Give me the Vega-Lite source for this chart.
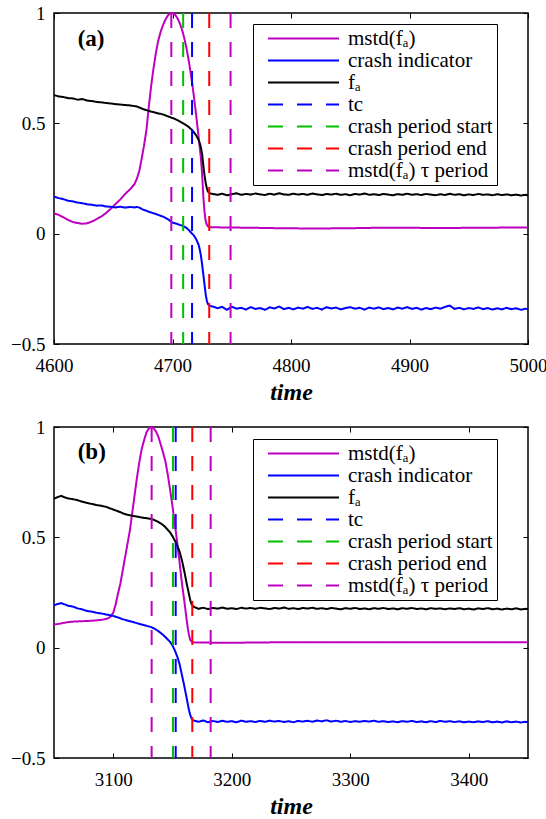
{
  "$schema": "https://vega.github.io/schema/vega-lite/v6.json",
  "padding": {"left": 9, "top": 3, "right": 0, "bottom": 0},
  "config": {
    "font": "Liberation Serif",
    "view": {"stroke": "black", "strokeWidth": 1.5},
    "axis": {"domain": false, "grid": false, "tickColor": "black", "tickSize": -5, "tickWidth": 1, "labelFont": "Liberation Serif", "labelFontSize": 19, "labelColor": "black", "titleFont": "Liberation Serif", "titleColor": "black", "labelFlush": false}
  },
  "datasets": {
    "a": [
      {"t":4600,"m":0.092,"c":0.168,"f":0.628},{"t":4604,"m":0.085,"c":0.161,"f":0.622},{"t":4608,"m":0.074,"c":0.156,"f":0.619},{"t":4612,"m":0.062,"c":0.149,"f":0.614},{"t":4616,"m":0.053,"c":0.146,"f":0.613},{"t":4620,"m":0.048,"c":0.141,"f":0.607},{"t":4624,"m":0.045,"c":0.138,"f":0.610},{"t":4628,"m":0.047,"c":0.133,"f":0.603},{"t":4632,"m":0.055,"c":0.131,"f":0.601},{"t":4636,"m":0.066,"c":0.127,"f":0.597},{"t":4640,"m":0.078,"c":0.128,"f":0.595},{"t":4644,"m":0.094,"c":0.123,"f":0.592},{"t":4648,"m":0.113,"c":0.122,"f":0.590},{"t":4652,"m":0.135,"c":0.119,"f":0.587},{"t":4656,"m":0.155,"c":0.122,"f":0.585},{"t":4660,"m":0.180,"c":0.118,"f":0.583},{"t":4664,"m":0.200,"c":0.121,"f":0.581},{"t":4668,"m":0.225,"c":0.119,"f":0.578},{"t":4670,"m":0.250,"c":0.121,"f":0.576},{"t":4672,"m":0.285,"c":0.118,"f":0.572},{"t":4674,"m":0.340,"c":0.112,"f":0.567},{"t":4676,"m":0.400,"c":0.107,"f":0.563},{"t":4678,"m":0.470,"c":0.104,"f":0.560},{"t":4680,"m":0.575,"c":0.099,"f":0.556},{"t":4682,"m":0.670,"c":0.096,"f":0.553},{"t":4684,"m":0.750,"c":0.092,"f":0.551},{"t":4686,"m":0.820,"c":0.089,"f":0.548},{"t":4688,"m":0.875,"c":0.085,"f":0.545},{"t":4690,"m":0.915,"c":0.081,"f":0.543},{"t":4692,"m":0.945,"c":0.077,"f":0.540},{"t":4694,"m":0.970,"c":0.072,"f":0.536},{"t":4696,"m":0.988,"c":0.066,"f":0.532},{"t":4698,"m":0.998,"c":0.058,"f":0.528},{"t":4700,"m":1.000,"c":0.050,"f":0.524},{"t":4702,"m":0.993,"c":0.047,"f":0.520},{"t":4704,"m":0.978,"c":0.044,"f":0.515},{"t":4706,"m":0.956,"c":0.040,"f":0.509},{"t":4708,"m":0.925,"c":0.037,"f":0.503},{"t":4710,"m":0.885,"c":0.032,"f":0.497},{"t":4712,"m":0.835,"c":0.025,"f":0.490},{"t":4714,"m":0.775,"c":0.015,"f":0.482},{"t":4716,"m":0.705,"c":0.003,"f":0.472},{"t":4718,"m":0.625,"c":-0.008,"f":0.460},{"t":4720,"m":0.535,"c":-0.025,"f":0.445},{"t":4722,"m":0.440,"c":-0.050,"f":0.425},{"t":4723,"m":0.390,"c":-0.072,"f":0.410},{"t":4724,"m":0.340,"c":-0.100,"f":0.390},{"t":4725,"m":0.270,"c":-0.140,"f":0.360},{"t":4726,"m":0.170,"c":-0.185,"f":0.310},{"t":4727,"m":0.100,"c":-0.230,"f":0.265},{"t":4728,"m":0.058,"c":-0.275,"f":0.230},{"t":4729,"m":0.040,"c":-0.305,"f":0.205},{"t":4730,"m":0.033,"c":-0.320,"f":0.190},{"t":4731,"m":0.030,"c":-0.325,"f":0.185},{"t":4732,"m":0.029,"c":-0.328,"f":0.182},
      {"t":4734,"m":0.029,"c":-0.330,"f":0.180},{"t":4738,"m":0.029,"c":-0.338,"f":0.176},{"t":4742,"m":0.028,"c":-0.332,"f":0.181},{"t":4746,"m":0.028,"c":-0.345,"f":0.174},{"t":4750,"m":0.028,"c":-0.331,"f":0.179},{"t":4754,"m":0.028,"c":-0.340,"f":0.183},{"t":4758,"m":0.027,"c":-0.336,"f":0.176},{"t":4762,"m":0.027,"c":-0.344,"f":0.180},{"t":4766,"m":0.027,"c":-0.333,"f":0.177},{"t":4770,"m":0.027,"c":-0.341,"f":0.182},{"t":4774,"m":0.026,"c":-0.337,"f":0.178},{"t":4778,"m":0.026,"c":-0.345,"f":0.175},{"t":4782,"m":0.026,"c":-0.334,"f":0.181},{"t":4786,"m":0.025,"c":-0.339,"f":0.177},{"t":4790,"m":0.025,"c":-0.330,"f":0.183},{"t":4794,"m":0.025,"c":-0.342,"f":0.178},{"t":4798,"m":0.024,"c":-0.336,"f":0.176},{"t":4802,"m":0.024,"c":-0.343,"f":0.181},{"t":4806,"m":0.024,"c":-0.335,"f":0.177},{"t":4810,"m":0.023,"c":-0.340,"f":0.180},{"t":4814,"m":0.023,"c":-0.332,"f":0.176},{"t":4818,"m":0.023,"c":-0.341,"f":0.182},{"t":4822,"m":0.023,"c":-0.336,"f":0.178},{"t":4826,"m":0.023,"c":-0.344,"f":0.175},{"t":4830,"m":0.023,"c":-0.333,"f":0.180},{"t":4834,"m":0.024,"c":-0.339,"f":0.177},{"t":4838,"m":0.024,"c":-0.335,"f":0.181},{"t":4842,"m":0.024,"c":-0.343,"f":0.176},{"t":4846,"m":0.025,"c":-0.337,"f":0.179},{"t":4850,"m":0.025,"c":-0.333,"f":0.174},{"t":4854,"m":0.025,"c":-0.340,"f":0.180},{"t":4858,"m":0.026,"c":-0.336,"f":0.177},{"t":4862,"m":0.026,"c":-0.344,"f":0.182},{"t":4866,"m":0.026,"c":-0.335,"f":0.176},{"t":4870,"m":0.027,"c":-0.340,"f":0.179},{"t":4874,"m":0.027,"c":-0.334,"f":0.175},{"t":4878,"m":0.027,"c":-0.342,"f":0.180},{"t":4882,"m":0.027,"c":-0.337,"f":0.177},{"t":4886,"m":0.027,"c":-0.343,"f":0.174},{"t":4890,"m":0.027,"c":-0.335,"f":0.179},{"t":4894,"m":0.027,"c":-0.340,"f":0.176},{"t":4898,"m":0.027,"c":-0.333,"f":0.181},{"t":4902,"m":0.027,"c":-0.341,"f":0.176},{"t":4906,"m":0.027,"c":-0.336,"f":0.179},{"t":4910,"m":0.026,"c":-0.344,"f":0.175},{"t":4914,"m":0.026,"c":-0.337,"f":0.180},{"t":4918,"m":0.026,"c":-0.342,"f":0.177},{"t":4922,"m":0.026,"c":-0.335,"f":0.174},{"t":4926,"m":0.026,"c":-0.340,"f":0.179},{"t":4930,"m":0.026,"c":-0.332,"f":0.175},{"t":4934,"m":0.026,"c":-0.326,"f":0.181},{"t":4938,"m":0.026,"c":-0.341,"f":0.176},{"t":4942,"m":0.026,"c":-0.336,"f":0.179},{"t":4946,"m":0.027,"c":-0.343,"f":0.174},{"t":4950,"m":0.027,"c":-0.337,"f":0.178},{"t":4954,"m":0.027,"c":-0.341,"f":0.175},{"t":4958,"m":0.027,"c":-0.334,"f":0.180},{"t":4962,"m":0.027,"c":-0.342,"f":0.176},{"t":4966,"m":0.027,"c":-0.337,"f":0.178},{"t":4970,"m":0.027,"c":-0.344,"f":0.174},{"t":4974,"m":0.027,"c":-0.338,"f":0.179},{"t":4978,"m":0.028,"c":-0.343,"f":0.175},{"t":4982,"m":0.028,"c":-0.336,"f":0.178},{"t":4986,"m":0.028,"c":-0.342,"f":0.174},{"t":4990,"m":0.028,"c":-0.338,"f":0.177},{"t":4994,"m":0.028,"c":-0.345,"f":0.173},{"t":4998,"m":0.028,"c":-0.340,"f":0.176},{"t":5000,"m":0.028,"c":-0.343,"f":0.174}
    ],
    "b": [
      {"t":3050,"m":0.105,"c":0.192,"f":0.675},{"t":3053,"m":0.107,"c":0.198,"f":0.682},{"t":3056,"m":0.110,"c":0.202,"f":0.688},{"t":3059,"m":0.113,"c":0.196,"f":0.681},{"t":3062,"m":0.116,"c":0.190,"f":0.676},{"t":3066,"m":0.118,"c":0.186,"f":0.673},{"t":3070,"m":0.119,"c":0.178,"f":0.668},{"t":3074,"m":0.120,"c":0.173,"f":0.661},{"t":3078,"m":0.121,"c":0.166,"f":0.656},{"t":3082,"m":0.122,"c":0.163,"f":0.651},{"t":3086,"m":0.124,"c":0.158,"f":0.646},{"t":3090,"m":0.126,"c":0.155,"f":0.643},{"t":3094,"m":0.130,"c":0.150,"f":0.638},{"t":3096,"m":0.134,"c":0.149,"f":0.634},{"t":3098,"m":0.142,"c":0.146,"f":0.630},{"t":3100,"m":0.158,"c":0.144,"f":0.626},{"t":3102,"m":0.195,"c":0.140,"f":0.622},{"t":3104,"m":0.245,"c":0.137,"f":0.618},{"t":3106,"m":0.290,"c":0.133,"f":0.614},{"t":3108,"m":0.350,"c":0.129,"f":0.609},{"t":3110,"m":0.410,"c":0.126,"f":0.605},{"t":3112,"m":0.470,"c":0.123,"f":0.602},{"t":3114,"m":0.530,"c":0.120,"f":0.600},{"t":3116,"m":0.610,"c":0.117,"f":0.598},{"t":3118,"m":0.690,"c":0.114,"f":0.596},{"t":3120,"m":0.770,"c":0.111,"f":0.594},{"t":3122,"m":0.840,"c":0.108,"f":0.592},{"t":3124,"m":0.900,"c":0.105,"f":0.590},{"t":3126,"m":0.940,"c":0.102,"f":0.588},{"t":3128,"m":0.975,"c":0.099,"f":0.587},{"t":3130,"m":0.993,"c":0.096,"f":0.585},{"t":3132,"m":1.000,"c":0.093,"f":0.583},{"t":3134,"m":0.995,"c":0.088,"f":0.580},{"t":3136,"m":0.980,"c":0.082,"f":0.575},{"t":3138,"m":0.957,"c":0.075,"f":0.570},{"t":3140,"m":0.922,"c":0.067,"f":0.563},{"t":3142,"m":0.885,"c":0.058,"f":0.556},{"t":3144,"m":0.845,"c":0.048,"f":0.546},{"t":3146,"m":0.785,"c":0.037,"f":0.534},{"t":3148,"m":0.715,"c":0.026,"f":0.522},{"t":3150,"m":0.640,"c":0.010,"f":0.505},{"t":3152,"m":0.560,"c":-0.013,"f":0.485},{"t":3154,"m":0.475,"c":-0.040,"f":0.462},{"t":3156,"m":0.385,"c":-0.075,"f":0.435},{"t":3158,"m":0.290,"c":-0.125,"f":0.395},{"t":3160,"m":0.210,"c":-0.175,"f":0.345},{"t":3162,"m":0.125,"c":-0.230,"f":0.290},{"t":3163,"m":0.085,"c":-0.258,"f":0.265},{"t":3164,"m":0.055,"c":-0.285,"f":0.240},{"t":3165,"m":0.035,"c":-0.305,"f":0.215},{"t":3166,"m":0.028,"c":-0.320,"f":0.198},{"t":3167,"m":0.025,"c":-0.328,"f":0.190},{"t":3168,"m":0.024,"c":-0.330,"f":0.185},
      {"t":3172,"m":0.023,"c":-0.336,"f":0.176},{"t":3176,"m":0.023,"c":-0.330,"f":0.181},{"t":3180,"m":0.023,"c":-0.338,"f":0.175},{"t":3184,"m":0.022,"c":-0.332,"f":0.180},{"t":3188,"m":0.022,"c":-0.337,"f":0.177},{"t":3192,"m":0.022,"c":-0.331,"f":0.182},{"t":3196,"m":0.022,"c":-0.336,"f":0.176},{"t":3200,"m":0.022,"c":-0.333,"f":0.179},{"t":3204,"m":0.022,"c":-0.338,"f":0.175},{"t":3208,"m":0.022,"c":-0.331,"f":0.181},{"t":3212,"m":0.023,"c":-0.336,"f":0.177},{"t":3216,"m":0.023,"c":-0.333,"f":0.180},{"t":3220,"m":0.023,"c":-0.337,"f":0.176},{"t":3224,"m":0.023,"c":-0.332,"f":0.181},{"t":3228,"m":0.023,"c":-0.336,"f":0.178},{"t":3232,"m":0.024,"c":-0.331,"f":0.175},{"t":3236,"m":0.024,"c":-0.335,"f":0.180},{"t":3240,"m":0.024,"c":-0.332,"f":0.177},{"t":3244,"m":0.024,"c":-0.337,"f":0.182},{"t":3248,"m":0.024,"c":-0.333,"f":0.176},{"t":3252,"m":0.024,"c":-0.338,"f":0.179},{"t":3256,"m":0.024,"c":-0.332,"f":0.175},{"t":3260,"m":0.024,"c":-0.335,"f":0.180},{"t":3264,"m":0.024,"c":-0.331,"f":0.177},{"t":3268,"m":0.024,"c":-0.336,"f":0.181},{"t":3272,"m":0.024,"c":-0.330,"f":0.176},{"t":3276,"m":0.024,"c":-0.334,"f":0.179},{"t":3280,"m":0.024,"c":-0.329,"f":0.175},{"t":3284,"m":0.024,"c":-0.335,"f":0.180},{"t":3288,"m":0.024,"c":-0.331,"f":0.177},{"t":3292,"m":0.024,"c":-0.336,"f":0.174},{"t":3296,"m":0.024,"c":-0.332,"f":0.179},{"t":3300,"m":0.024,"c":-0.337,"f":0.176},{"t":3304,"m":0.024,"c":-0.333,"f":0.180},{"t":3308,"m":0.024,"c":-0.336,"f":0.175},{"t":3312,"m":0.024,"c":-0.332,"f":0.178},{"t":3316,"m":0.024,"c":-0.335,"f":0.174},{"t":3320,"m":0.024,"c":-0.331,"f":0.179},{"t":3324,"m":0.024,"c":-0.336,"f":0.176},{"t":3328,"m":0.024,"c":-0.333,"f":0.180},{"t":3332,"m":0.024,"c":-0.337,"f":0.175},{"t":3336,"m":0.024,"c":-0.334,"f":0.178},{"t":3340,"m":0.024,"c":-0.338,"f":0.174},{"t":3344,"m":0.024,"c":-0.333,"f":0.179},{"t":3348,"m":0.024,"c":-0.336,"f":0.176},{"t":3352,"m":0.024,"c":-0.332,"f":0.180},{"t":3356,"m":0.024,"c":-0.337,"f":0.175},{"t":3360,"m":0.024,"c":-0.334,"f":0.178},{"t":3364,"m":0.024,"c":-0.338,"f":0.174},{"t":3368,"m":0.024,"c":-0.333,"f":0.179},{"t":3372,"m":0.024,"c":-0.337,"f":0.176},{"t":3376,"m":0.024,"c":-0.332,"f":0.178},{"t":3380,"m":0.024,"c":-0.336,"f":0.174},{"t":3384,"m":0.024,"c":-0.333,"f":0.178},{"t":3388,"m":0.024,"c":-0.337,"f":0.175},{"t":3392,"m":0.024,"c":-0.334,"f":0.179},{"t":3396,"m":0.024,"c":-0.338,"f":0.174},{"t":3400,"m":0.024,"c":-0.335,"f":0.177},{"t":3404,"m":0.024,"c":-0.338,"f":0.173},{"t":3408,"m":0.024,"c":-0.334,"f":0.178},{"t":3412,"m":0.024,"c":-0.337,"f":0.175},{"t":3416,"m":0.024,"c":-0.333,"f":0.179},{"t":3420,"m":0.024,"c":-0.338,"f":0.174},{"t":3424,"m":0.024,"c":-0.335,"f":0.177},{"t":3428,"m":0.024,"c":-0.339,"f":0.173},{"t":3432,"m":0.024,"c":-0.334,"f":0.177},{"t":3436,"m":0.024,"c":-0.338,"f":0.174},{"t":3440,"m":0.024,"c":-0.335,"f":0.178},{"t":3444,"m":0.024,"c":-0.339,"f":0.173},{"t":3448,"m":0.024,"c":-0.336,"f":0.176},{"t":3450,"m":0.024,"c":-0.337,"f":0.175}
    ],
    "aRules": [{"t":4699,"s":"tau"},{"t":4749,"s":"tau"},{"t":4709,"s":"cs"},{"t":4716.5,"s":"tc"},{"t":4731,"s":"ce"}],
    "bRules": [{"t":3132.4,"s":"tau"},{"t":3182.2,"s":"tau"},{"t":3150.4,"s":"cs"},{"t":3152.7,"s":"tc"},{"t":3166.7,"s":"ce"}],
    "aLab": [{"t":4620,"v":0.88,"label":"(a)"}],
    "bLab": [{"t":3070,"v":0.887,"label":"(b)"}]
  },
  "vconcat": [
    {
      "width": 474, "height": 331,
      "layer": [
        {
          "data": {"name": "a"},
          "transform": [{"fold": ["m", "c", "f"], "as": ["s", "v"]}],
          "mark": {"type": "line", "strokeWidth": 2},
          "encoding": {
            "x": {"field": "t", "type": "quantitative", "scale": {"domain": [4600, 5000], "nice": false, "zero": false}, "axis": {"orient": "bottom", "values": [4600, 4700, 4800, 4900, 5000], "format": "d", "labelPadding": 17, "title": "time", "titleFontSize": 24, "titleFontWeight": "bold", "titleFontStyle": "italic", "titlePadding": 5}},
            "y": {"field": "v", "type": "quantitative", "scale": {"domain": [-0.5, 1], "nice": false, "zero": false}, "axis": {"orient": "left", "values": [-0.5, 0, 0.5, 1], "format": "~g", "labelPadding": 14, "title": null}},
            "color": {"field": "s", "type": "nominal", "scale": {"domain": ["m", "c", "f", "tc", "cs", "ce", "tau"], "range": ["#bf00bf", "#0000ff", "#000000", "#0000ff", "#00bf00", "#ff0000", "#bf00bf"]},
              "legend": {"orient": "none", "legendX": 199, "legendY": 11, "title": null, "symbolType": "stroke", "symbolSize": 5041, "symbolStrokeWidth": 2, "clipHeight": 21, "rowPadding": 0, "labelFont": "Liberation Serif", "labelFontSize": 21, "labelColor": "black", "labelOffset": 8, "padding": 4, "symbolOffset": 10, "strokeColor": "black", "fillColor": "white", "cornerRadius": 0,
                "labelExpr": "datum.label == 'm' ? 'mstd(fₐ)' : datum.label == 'c' ? 'crash indicator' : datum.label == 'f' ? 'fₐ' : datum.label == 'tc' ? 'tc' : datum.label == 'cs' ? 'crash period start' : datum.label == 'ce' ? 'crash period end' : 'mstd(fₐ) τ period\u00a0\u00a0\u00a0\u00a0'"}},
            "strokeDash": {"field": "s", "type": "nominal", "scale": {"domain": ["m", "c", "f", "tc", "cs", "ce", "tau"], "range": [[1, 0], [1, 0], [1, 0], [15, 14], [15, 14], [15, 14], [15, 14]]},
              "legend": {"orient": "none", "legendX": 199, "legendY": 11, "title": null, "symbolType": "stroke", "symbolSize": 5041, "symbolStrokeWidth": 2, "clipHeight": 21, "rowPadding": 0, "labelFont": "Liberation Serif", "labelFontSize": 21, "labelColor": "black", "labelOffset": 8, "padding": 4, "symbolOffset": 10, "strokeColor": "black", "fillColor": "white", "cornerRadius": 0,
                "labelExpr": "datum.label == 'm' ? 'mstd(fₐ)' : datum.label == 'c' ? 'crash indicator' : datum.label == 'f' ? 'fₐ' : datum.label == 'tc' ? 'tc' : datum.label == 'cs' ? 'crash period start' : datum.label == 'ce' ? 'crash period end' : 'mstd(fₐ) τ period\u00a0\u00a0\u00a0\u00a0'"}}
          }
        },
        {
          "data": {"name": "aRules"},
          "mark": {"type": "rule", "strokeWidth": 2},
          "encoding": {
            "x": {"field": "t", "type": "quantitative", "axis": null},
            "color": {"field": "s", "type": "nominal"},
            "strokeDash": {"field": "s", "type": "nominal"}
          }
        },
        {
          "data": {"name": "aLab"},
          "mark": {"type": "text", "font": "Liberation Serif", "fontWeight": "bold", "fontSize": 23, "align": "left", "baseline": "middle", "color": "black"},
          "encoding": {
            "x": {"field": "t", "type": "quantitative", "axis": {"orient": "top", "values": [4600, 4700, 4800, 4900, 5000], "labels": false, "title": null}},
            "y": {"field": "v", "type": "quantitative", "axis": {"orient": "right", "values": [-0.5, 0, 0.5, 1], "labels": false, "title": null}},
            "text": {"field": "label"}
          }
        }
      ],
      "resolve": {"axis": {"x": "independent", "y": "independent"}}
    },
    {
      "width": 474, "height": 331,
      "layer": [
        {
          "data": {"name": "b"},
          "transform": [{"fold": ["m", "c", "f"], "as": ["s", "v"]}],
          "mark": {"type": "line", "strokeWidth": 2},
          "encoding": {
            "x": {"field": "t", "type": "quantitative", "scale": {"domain": [3050, 3450], "nice": false, "zero": false}, "axis": {"orient": "bottom", "values": [3100, 3200, 3300, 3400], "format": "d", "labelPadding": 17, "title": "time", "titleFontSize": 24, "titleFontWeight": "bold", "titleFontStyle": "italic", "titlePadding": 5}},
            "y": {"field": "v", "type": "quantitative", "scale": {"domain": [-0.5, 1], "nice": false, "zero": false}, "axis": {"orient": "left", "values": [-0.5, 0, 0.5, 1], "format": "~g", "labelPadding": 14, "title": null}},
            "color": {"field": "s", "type": "nominal", "scale": {"domain": ["m", "c", "f", "tc", "cs", "ce", "tau"], "range": ["#bf00bf", "#0000ff", "#000000", "#0000ff", "#00bf00", "#ff0000", "#bf00bf"]},
              "legend": {"orient": "none", "legendX": 199, "legendY": 12, "title": null, "symbolType": "stroke", "symbolSize": 5041, "symbolStrokeWidth": 2, "clipHeight": 21, "rowPadding": 0, "labelFont": "Liberation Serif", "labelFontSize": 21, "labelColor": "black", "labelOffset": 8, "padding": 4, "symbolOffset": 10, "strokeColor": "black", "fillColor": "white", "cornerRadius": 0,
                "labelExpr": "datum.label == 'm' ? 'mstd(fₐ)' : datum.label == 'c' ? 'crash indicator' : datum.label == 'f' ? 'fₐ' : datum.label == 'tc' ? 'tc' : datum.label == 'cs' ? 'crash period start' : datum.label == 'ce' ? 'crash period end' : 'mstd(fₐ) τ period\u00a0\u00a0\u00a0\u00a0'"}},
            "strokeDash": {"field": "s", "type": "nominal", "scale": {"domain": ["m", "c", "f", "tc", "cs", "ce", "tau"], "range": [[1, 0], [1, 0], [1, 0], [15, 14], [15, 14], [15, 14], [15, 14]]},
              "legend": {"orient": "none", "legendX": 199, "legendY": 12, "title": null, "symbolType": "stroke", "symbolSize": 5041, "symbolStrokeWidth": 2, "clipHeight": 21, "rowPadding": 0, "labelFont": "Liberation Serif", "labelFontSize": 21, "labelColor": "black", "labelOffset": 8, "padding": 4, "symbolOffset": 10, "strokeColor": "black", "fillColor": "white", "cornerRadius": 0,
                "labelExpr": "datum.label == 'm' ? 'mstd(fₐ)' : datum.label == 'c' ? 'crash indicator' : datum.label == 'f' ? 'fₐ' : datum.label == 'tc' ? 'tc' : datum.label == 'cs' ? 'crash period start' : datum.label == 'ce' ? 'crash period end' : 'mstd(fₐ) τ period\u00a0\u00a0\u00a0\u00a0'"}}
          }
        },
        {
          "data": {"name": "bRules"},
          "mark": {"type": "rule", "strokeWidth": 2},
          "encoding": {
            "x": {"field": "t", "type": "quantitative", "axis": null},
            "color": {"field": "s", "type": "nominal"},
            "strokeDash": {"field": "s", "type": "nominal"}
          }
        },
        {
          "data": {"name": "bLab"},
          "mark": {"type": "text", "font": "Liberation Serif", "fontWeight": "bold", "fontSize": 23, "align": "left", "baseline": "middle", "color": "black"},
          "encoding": {
            "x": {"field": "t", "type": "quantitative", "axis": {"orient": "top", "values": [3100, 3200, 3300, 3400], "labels": false, "title": null}},
            "y": {"field": "v", "type": "quantitative", "axis": {"orient": "right", "values": [-0.5, 0, 0.5, 1], "labels": false, "title": null}},
            "text": {"field": "label"}
          }
        }
      ],
      "resolve": {"axis": {"x": "independent", "y": "independent"}}
    }
  ],
  "spacing": 12,
  "resolve": {"scale": {"x": "independent", "y": "independent", "color": "independent", "strokeDash": "independent"}}
}
